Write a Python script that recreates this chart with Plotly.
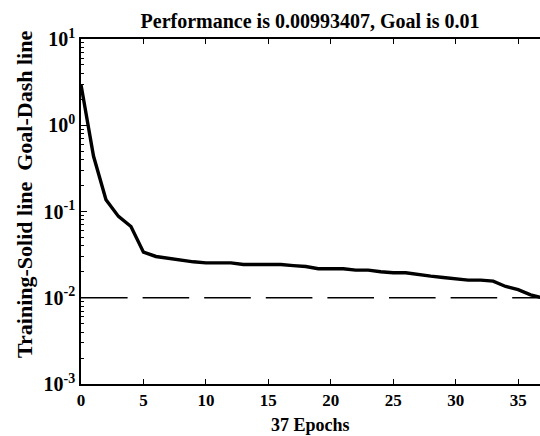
import plotly.graph_objects as go

epochs = list(range(0, 38))
performance = [2.95, 0.44, 0.137, 0.0877, 0.067, 0.0338, 0.0301, 0.0288, 0.027, 0.0261,
               0.0254, 0.0254, 0.0254, 0.0243, 0.0243, 0.0243, 0.0243, 0.0236, 0.023, 0.0217,
               0.0217, 0.0217, 0.0209, 0.0209, 0.02, 0.0195, 0.0195, 0.0185, 0.0178, 0.0172,
               0.0166, 0.016, 0.016, 0.0156, 0.0135, 0.0124, 0.0108, 0.00993407]
goal = 0.01
goal_x = [0, 37]
ytick_vals = [1e-3, 1e-2, 1e-1, 1e0, 1e1]
ytick_text = ["<b>10<sup>-3</sup></b>", "<b>10<sup>-2</sup></b>", "<b>10<sup>-1</sup></b>",
              "<b>10<sup>0</sup></b>", "<b>10<sup>1</sup></b>"]
minor_vals = [m * 10.0 ** e for e in range(-3, 1) for m in range(2, 10)]
xtick_vals = [0, 5, 10, 15, 20, 25, 30, 35]

FONT = "Liberation Serif"
L, R, T, B = 81, 0, 39, 52
W, H = 540, 436
PW = W - L - R
PH = H - T - B

fig = go.Figure()
fig.add_trace(go.Scatter(x=goal_x, y=[goal, goal], mode="lines",
                         line=dict(color="black", width=1.4, dash="46.6px,15px"),
                         hoverinfo="skip"))
fig.add_trace(go.Scatter(x=epochs, y=performance, mode="lines",
                         line=dict(color="black", width=3.4)))

fig.update_layout(
    width=W, height=H,
    margin=dict(l=L, r=R, t=T, b=B),
    paper_bgcolor="white", plot_bgcolor="white",
    showlegend=False,
    font=dict(family=FONT, color="black"),
    title=dict(text="<b>Performance is 0.00993407, Goal is 0.01</b>",
               x=310 / W, xanchor="center", y=1 - 21 / H, yanchor="middle",
               font=dict(family=FONT, size=20, color="black")),
)
fig.update_xaxes(
    range=[0, 36.75], tickvals=xtick_vals, ticktext=[f"<b>{v}</b>" for v in xtick_vals],
    ticks="inside", ticklen=5, tickcolor="black", tickwidth=1,
    showline=True, linecolor="black", linewidth=1.5, mirror="ticks",
    showgrid=False, zeroline=False, automargin=False,
    tickfont=dict(family=FONT, size=17, color="black"),
)
fig.update_yaxes(
    type="log", range=[-3, 1], tickmode="array", tickvals=ytick_vals, ticktext=ytick_text,
    ticks="inside", ticklen=6, tickcolor="black", tickwidth=1,
    showline=True, linecolor="black", linewidth=1.5, mirror=False,
    showgrid=False, zeroline=False, automargin=False,
    minor=dict(tickmode="array", tickvals=minor_vals, ticks="inside", ticklen=3,
               tickcolor="black", tickwidth=1, showgrid=False),
    tickfont=dict(family=FONT, size=20, color="black"),
)

fig.add_annotation(text="<b>37 Epochs</b>", xref="paper", yref="paper",
                   x=(310 - L) / PW, y=-(425 - (T + PH)) / PH, xanchor="center", yanchor="middle",
                   showarrow=False, font=dict(family=FONT, size=18, color="black"))
fig.add_annotation(text="<b>Training-Solid line\u00a0\u00a0Goal-Dash line</b>", xref="paper", yref="paper",
                   x=-(L - 24) / PW, y=1 - (195 - T) / PH, xanchor="center", yanchor="middle",
                   textangle=-90, showarrow=False,
                   font=dict(family=FONT, size=22, color="black"))

fig.write_html("out.html", config={"displayModeBar": False},
               post_script="document.body.style.margin='0';document.body.style.overflow='hidden';")
